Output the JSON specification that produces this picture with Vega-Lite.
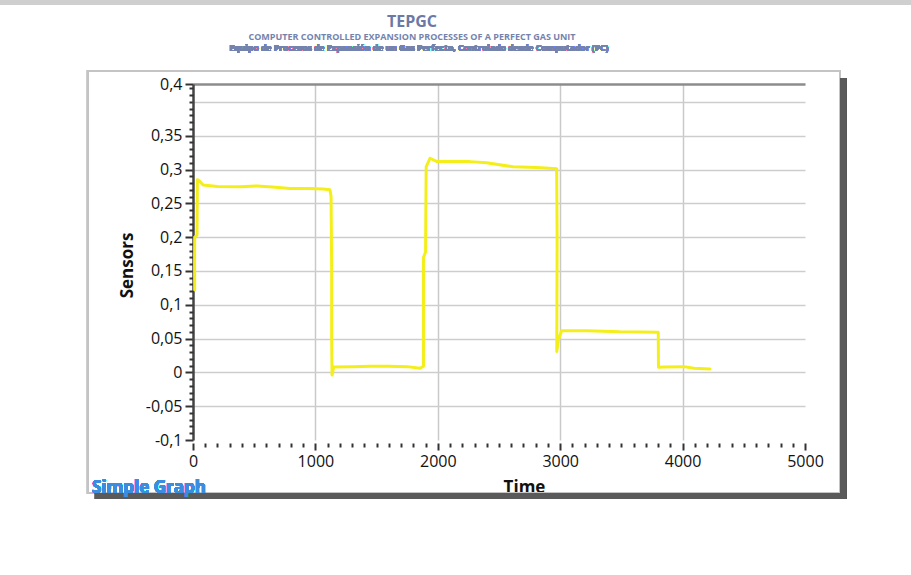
{
  "$schema": "https://vega.github.io/schema/vega-lite/v6.json",
  "width": 612,
  "height": 356,
  "autosize": {"type": "none"},
  "padding": {"left": 193, "top": 84, "right": 106, "bottom": 135},
  "background": "white",
  "config": {
    "view": {"stroke": null},
    "axis": {"labelFont": "Open Sans", "titleFont": "Open Sans"}
  },
  "title": {
    "text": "TEPGC",
    "subtitle": "COMPUTER CONTROLLED EXPANSION PROCESSES OF A PERFECT GAS UNIT",
    "anchor": "middle",
    "frame": "group",
    "dx": -87,
    "offset": -42,
    "font": "Open Sans",
    "fontSize": 16,
    "fontWeight": "bold",
    "color": "#6c79a7",
    "subtitleFont": "Open Sans",
    "subtitleFontSize": 9,
    "subtitleFontWeight": "bold",
    "subtitleColor": "#7483ad",
    "subtitlePadding": 3
  },
  "data": {
    "values": [
      {"t": 14, "v": 0.122}, {"t": 13, "v": 0.16}, {"t": 14, "v": 0.2}, {"t": 33, "v": 0.203},
      {"t": 36, "v": 0.285}, {"t": 47, "v": 0.284}, {"t": 82, "v": 0.277}, {"t": 200, "v": 0.275},
      {"t": 384, "v": 0.2745}, {"t": 523, "v": 0.2757}, {"t": 650, "v": 0.274}, {"t": 793, "v": 0.272},
      {"t": 950, "v": 0.272}, {"t": 1062, "v": 0.2713}, {"t": 1119, "v": 0.27}, {"t": 1128, "v": 0.26},
      {"t": 1133, "v": 0.15}, {"t": 1133, "v": 0.05}, {"t": 1136, "v": -0.004}, {"t": 1150, "v": 0.008},
      {"t": 1300, "v": 0.0085}, {"t": 1450, "v": 0.009}, {"t": 1600, "v": 0.009}, {"t": 1750, "v": 0.0085},
      {"t": 1855, "v": 0.006}, {"t": 1883, "v": 0.009}, {"t": 1883, "v": 0.17}, {"t": 1900, "v": 0.178},
      {"t": 1905, "v": 0.304}, {"t": 1936, "v": 0.3167}, {"t": 1990, "v": 0.312}, {"t": 2073, "v": 0.3117},
      {"t": 2263, "v": 0.3117}, {"t": 2399, "v": 0.31}, {"t": 2614, "v": 0.304}, {"t": 2808, "v": 0.303},
      {"t": 2971, "v": 0.3013}, {"t": 2975, "v": 0.2}, {"t": 2972, "v": 0.031}, {"t": 2985, "v": 0.048},
      {"t": 3012, "v": 0.0617}, {"t": 3216, "v": 0.0617}, {"t": 3488, "v": 0.06}, {"t": 3801, "v": 0.0593},
      {"t": 3803, "v": 0.0075}, {"t": 3850, "v": 0.008}, {"t": 4011, "v": 0.0085}, {"t": 4093, "v": 0.006},
      {"t": 4224, "v": 0.005}
    ]
  },
  "layer": [
    {
      "mark": {"type": "line", "color": "#f4ef1a", "strokeWidth": 3, "strokeJoin": "round", "strokeCap": "round"},
      "encoding": {
        "x": {
          "field": "t", "type": "quantitative",
          "scale": {"domain": [0, 5000], "nice": false, "zero": false},
          "axis": {
            "title": "Time", "orient": "bottom", "values": [0, 1000, 2000, 3000, 4000, 5000], "format": "d",
            "offset": 3, "domain": false, "tickSize": 7, "tickWidth": 2, "tickColor": "#333333",
            "labelFontSize": 16, "labelColor": "#111111", "labelPadding": 3, "labelFlush": false,
            "grid": true, "gridColor": "#c9c9c9", "gridWidth": 1.5,
            "gridOpacity": {"condition": {"test": "datum.value === 0 || datum.value === 5000", "value": 0}, "value": 1},
            "titleFontSize": 17, "titleFontWeight": "bold", "titleColor": "#111111",
            "titleX": 331, "titleY": 44, "titleBaseline": "middle"
          }
        },
        "y": {
          "field": "v", "type": "quantitative",
          "scale": {"domain": [-0.1, 0.4265], "nice": false, "zero": false},
          "axis": {
            "title": "Sensors", "orient": "left",
            "values": [-0.1, -0.05, 0, 0.05, 0.1, 0.15, 0.2, 0.25, 0.3, 0.35, 0.4, 0.4265],
            "labelExpr": "datum.value > 0.41 ? '0,4' : (abs(datum.value - 0.4) < 0.001 ? '' : replace(replace(format(datum.value, '.2~f'), '.', ','), '\u2212', '-'))",
            "domain": true, "domainColor": "#444444", "domainWidth": 2.5,
            "tickSize": {"condition": {"test": "abs(datum.value - 0.4) < 0.001", "value": 4}, "value": 8},
            "tickWidth": 2, "tickColor": "#333333",
            "labelFontSize": 16, "labelColor": "#111111", "labelPadding": 3,
            "grid": true,
            "gridColor": {"condition": {"test": "datum.value > 0.41", "value": "#8c8c8c"}, "value": "#cdcdcd"},
            "gridWidth": {"condition": {"test": "datum.value > 0.41", "value": 2.5}, "value": 1.5},
            "gridOpacity": {"condition": {"test": "datum.value < -0.09", "value": 0}, "value": 1},
            "titleFontSize": 17, "titleFontWeight": "bold", "titleColor": "#111111",
            "titleX": -66, "titleY": 181, "titleBaseline": "middle"
          }
        },
        "order": {"value": null}
      }
    },
    {
      "mark": {"type": "point", "opacity": 0},
      "encoding": {
        "x": {
          "field": "t", "type": "quantitative",
          "scale": {"domain": [0, 5000], "nice": false, "zero": false},
          "axis": {
            "title": null, "orient": "bottom", "offset": 3, "domain": false, "labels": false, "grid": false,
            "tickSize": 4, "tickWidth": 2, "tickColor": "#333333",
            "values": [100, 200, 300, 400, 500, 600, 700, 800, 900, 1100, 1200, 1300, 1400, 1500, 1600, 1700, 1800, 1900, 2100, 2200, 2300, 2400, 2500, 2600, 2700, 2800, 2900, 3100, 3200, 3300, 3400, 3500, 3600, 3700, 3800, 3900, 4100, 4200, 4300, 4400, 4500, 4600, 4700, 4800, 4900]
          }
        },
        "y": {
          "field": "v", "type": "quantitative",
          "scale": {"domain": [-0.1, 0.4265], "nice": false, "zero": false},
          "axis": {
            "title": null, "orient": "left", "domain": false, "labels": false, "grid": false,
            "tickSize": 4, "tickWidth": 2, "tickColor": "#333333",
            "values": [-0.09, -0.08, -0.07, -0.06, -0.04, -0.03, -0.02, -0.01, 0.01, 0.02, 0.03, 0.04, 0.06, 0.07, 0.08, 0.09, 0.11, 0.12, 0.13, 0.14, 0.16, 0.17, 0.18, 0.19, 0.21, 0.22, 0.23, 0.24, 0.26, 0.27, 0.28, 0.29, 0.31, 0.32, 0.33, 0.34, 0.36, 0.37, 0.38, 0.39, 0.41, 0.42]
          }
        }
      }
    },
    {
      "mark": {"type": "rect", "fill": "#cfcfcf"},
      "encoding": {
        "x": {"datum": -1577, "type": "quantitative", "scale": {"domain": [0, 5000], "nice": false, "zero": false}, "axis": null},
        "x2": {"datum": 5866},
        "y": {"datum": 0.5509, "type": "quantitative", "scale": {"domain": [-0.1, 0.4265], "nice": false, "zero": false}, "axis": null},
        "y2": {"datum": 0.5435}
      }
    },
    {
      "mark": {"type": "rect", "fill": null, "stroke": "#c4c4c4", "strokeWidth": 2},
      "encoding": {
        "x": {"datum": -858, "type": "quantitative", "scale": {"domain": [0, 5000], "nice": false, "zero": false}, "axis": null},
        "x2": {"datum": 5286},
        "y": {"datum": 0.4459, "type": "quantitative", "scale": {"domain": [-0.1, 0.4265], "nice": false, "zero": false}, "axis": null},
        "y2": {"datum": -0.1784}
      }
    },
    {
      "mark": {"type": "rule", "stroke": "#5a5a5a", "strokeWidth": 6, "strokeOpacity": 0.5},
      "encoding": {
        "x": {"datum": 5315, "type": "quantitative", "scale": {"domain": [0, 5000], "nice": false, "zero": false}, "axis": null},
        "y": {"datum": 0.4355, "type": "quantitative", "scale": {"domain": [-0.1, 0.4265], "nice": false, "zero": false}, "axis": null},
        "y2": {"datum": -0.1873}
      }
    },
    {
      "mark": {"type": "rule", "stroke": "#5a5a5a", "strokeWidth": 6, "strokeOpacity": 0.5},
      "encoding": {
        "x": {"datum": -801, "type": "quantitative", "scale": {"domain": [0, 5000], "nice": false, "zero": false}, "axis": null},
        "x2": {"datum": 5290},
        "y": {"datum": -0.1828, "type": "quantitative", "scale": {"domain": [-0.1, 0.4265], "nice": false, "zero": false}, "axis": null}
      }
    },
    {
      "mark": {"type": "text", "text": "Simple Graph", "align": "left", "baseline": "middle", "font": "Open Sans", "fontSize": 17, "fontWeight": "bold", "color": "#3b8de0"},
      "encoding": {
        "x": {"datum": -825, "type": "quantitative", "scale": {"domain": [0, 5000], "nice": false, "zero": false}, "axis": null},
        "y": {"datum": -0.171, "type": "quantitative", "scale": {"domain": [-0.1, 0.4265], "nice": false, "zero": false}, "axis": null}
      }
    },
    {
      "mark": {"type": "text", "text": "Equipo de Procesos de Expansión de un Gas Perfecto, Controlado desde Computador (PC)", "align": "center", "baseline": "middle", "font": "Open Sans", "fontSize": 8.6, "fontWeight": "bold", "color": "#7483ad"},
      "encoding": {
        "x": {"datum": 1846, "type": "quantitative", "scale": {"domain": [0, 5000], "nice": false, "zero": false}, "axis": null},
        "y": {"datum": 0.4791, "type": "quantitative", "scale": {"domain": [-0.1, 0.4265], "nice": false, "zero": false}, "axis": null}
      }
    }
  ],
  "resolve": {"axis": {"x": "independent", "y": "independent"}}
}
